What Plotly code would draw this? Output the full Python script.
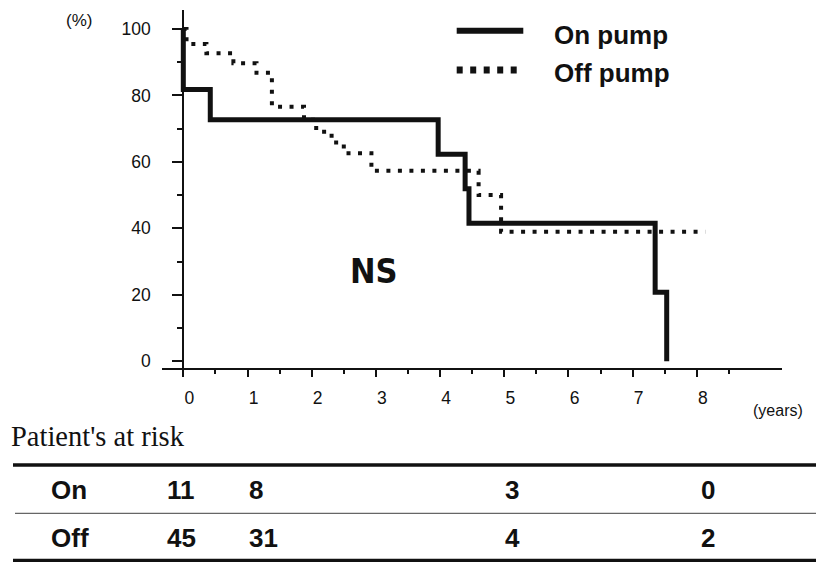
import plotly.graph_objects as go

# ---------------- data ----------------
on_time = [0, 0, 0.42, 3.97, 4.39, 4.45, 7.35, 7.53]
on_surv = [100, 81.8, 72.7, 62.3, 51.9, 41.5, 20.8, 0.0]

off_time = [0, 0.05, 0.36, 0.78, 1.14, 1.38, 1.88, 2.07, 2.31, 2.50, 2.93, 4.60, 4.95, 8.13]
off_surv = [100, 95.5, 92.7, 89.7, 86.8, 76.6, 72.7, 69.1, 65.8, 62.6, 57.3, 50.0, 39.0, 39.0]

series_names = ["On pump", "Off pump"]
x_ticks = [0, 1, 2, 3, 4, 5, 6, 7, 8]
x_minor = [0.5, 1.5, 2.5, 3.5, 4.5, 5.5, 6.5, 7.5, 8.5]
y_ticks = [0, 20, 40, 60, 80, 100]
y_minor = [10, 30, 50, 70, 90]

risk_times = [0, 1, 5, 8]
risk_rows = ["On", "Off"]
risk_on = [11, 8, 3, 0]
risk_off = [45, 31, 4, 2]

# ---------------- layout geometry (pixels) ----------------
W, H = 816, 562
L, R, T, B = 162, 34, 10, 194
PW, PH = W - L - R, H - T - B


def px(x):
    return (x - L) / PW


def py(y):
    return (H - B - y) / PH


INK = "#111111"
fig = go.Figure()

fig.add_trace(go.Scatter(
    x=off_time, y=off_surv, mode="lines", line_shape="hv", name=series_names[1],
    line=dict(color=INK, width=4, dash="4px,7.5px"), showlegend=False))
fig.add_trace(go.Scatter(
    x=on_time, y=on_surv, mode="lines", line_shape="hv", name=series_names[0],
    line=dict(color=INK, width=5), showlegend=False))

tickfont = dict(family="Liberation Sans, Arial, sans-serif", size=17.5, color=INK)

fig.update_layout(
    width=W, height=H, margin=dict(l=L, r=R, t=T, b=B),
    paper_bgcolor="white", plot_bgcolor="white",
    xaxis=dict(range=[-0.332, 9.326], showgrid=False, zeroline=False,
               showline=True, linecolor=INK, linewidth=1.5,
               tickmode="array", tickvals=x_ticks, ticktext=[str(v) for v in x_ticks],
               ticks="outside", ticklen=7, tickwidth=1.5, tickcolor=INK,
               ticklabelshift=6, ticklabelstandoff=6, tickfont=tickfont,
               minor=dict(tickmode="array", tickvals=x_minor, ticks="outside",
                          ticklen=4, tickwidth=1.5, tickcolor=INK)),
    yaxis=dict(range=[-2.02, 105.7], showgrid=False, zeroline=False,
               anchor="free", position=(183.3 - L) / PW,
               showline=True, linecolor=INK, linewidth=2,
               tickmode="array", tickvals=y_ticks, ticktext=[str(v) for v in y_ticks],
               ticks="outside", ticklen=10, tickwidth=1.5, tickcolor=INK,
               ticklabelstandoff=18, tickfont=tickfont,
               minor=dict(tickmode="array", tickvals=y_minor, ticks="outside",
                          ticklen=5, tickwidth=1.5, tickcolor=INK)),
)

shapes = []
# legend samples
shapes.append(dict(type="line", xref="paper", yref="paper",
                   x0=px(456.7), x1=px(523.3), y0=py(30.7), y1=py(30.7),
                   line=dict(color=INK, width=6)))
shapes.append(dict(type="line", xref="paper", yref="paper",
                   x0=px(456.7), x1=px(523.3), y0=py(70), y1=py(70),
                   line=dict(color=INK, width=7, dash="6px,7.5px")))
# table rules
shapes.append(dict(type="line", xref="paper", yref="paper",
                   x0=px(13), x1=px(816), y0=py(465), y1=py(465),
                   line=dict(color=INK, width=3.5)))
shapes.append(dict(type="line", xref="paper", yref="paper",
                   x0=px(15), x1=px(816), y0=py(513.3), y1=py(513.3),
                   line=dict(color="#666666", width=1.2)))
shapes.append(dict(type="line", xref="paper", yref="paper",
                   x0=px(13), x1=px(816), y0=py(560.5), y1=py(560.5),
                   line=dict(color=INK, width=3.5)))
fig.update_layout(shapes=shapes)

bold = dict(family="Liberation Sans, Arial, sans-serif", size=26, color=INK)
ns_font = dict(family="DejaVu Sans Condensed, DejaVu Sans, sans-serif",
               size=34, color=INK)
ns_ann = dict(text="<b>NS</b>", xref="paper", yref="paper",
              x=px(373.7), y=py(271), xanchor="center", yanchor="middle",
              showarrow=False, font=ns_font)
try:
    go.layout.Annotation(font=dict(ns_font, stretch="condensed"))
    ns_ann["font"] = dict(ns_font, stretch="condensed")
except Exception:
    pass

ann = []
ann.append(dict(text="<b>" + series_names[0] + "</b>", xref="paper", yref="paper",
                x=px(552), y=py(35), xanchor="left", yanchor="middle",
                showarrow=False, font=bold))
ann.append(dict(text="<b>" + series_names[1] + "</b>", xref="paper", yref="paper",
                x=px(552), y=py(73), xanchor="left", yanchor="middle",
                showarrow=False, font=bold))
ann.append(ns_ann)
ann.append(dict(text="(%)", xref="paper", yref="paper",
                x=px(79), y=py(20.7), xanchor="center", yanchor="middle",
                showarrow=False, font=dict(family="Liberation Sans, Arial", size=17, color=INK)))
ann.append(dict(text="(years)", xref="paper", yref="paper",
                x=px(777.5), y=py(410.7), xanchor="center", yanchor="middle",
                showarrow=False, font=dict(family="Liberation Sans, Arial", size=16, color=INK)))
ann.append(dict(text="Patient's at risk", xref="paper", yref="paper",
                x=px(9), y=py(436.7), xanchor="left", yanchor="middle",
                showarrow=False, font=dict(family="Liberation Serif, Times New Roman, serif",
                                           size=28.5, color=INK)))

row_y = [490, 538.3]
col_shift = [-17, 0, 0, 3]
for r, (label, vals) in enumerate(zip(risk_rows, [risk_on, risk_off])):
    ann.append(dict(text="<b>" + label + "</b>", xref="paper", yref="paper",
                    x=px(49), y=py(row_y[r]), xanchor="left", yanchor="middle",
                    showarrow=False, font=bold))
    for c, (t, v) in enumerate(zip(risk_times, vals)):
        ann.append(dict(text="<b>" + str(v) + "</b>", xref="x", yref="paper",
                        x=t, y=py(row_y[r]), xanchor="left", yanchor="middle",
                        xshift=col_shift[c] - 1, showarrow=False, font=bold))
fig.update_layout(annotations=ann)

fig.write_html("out.html")
